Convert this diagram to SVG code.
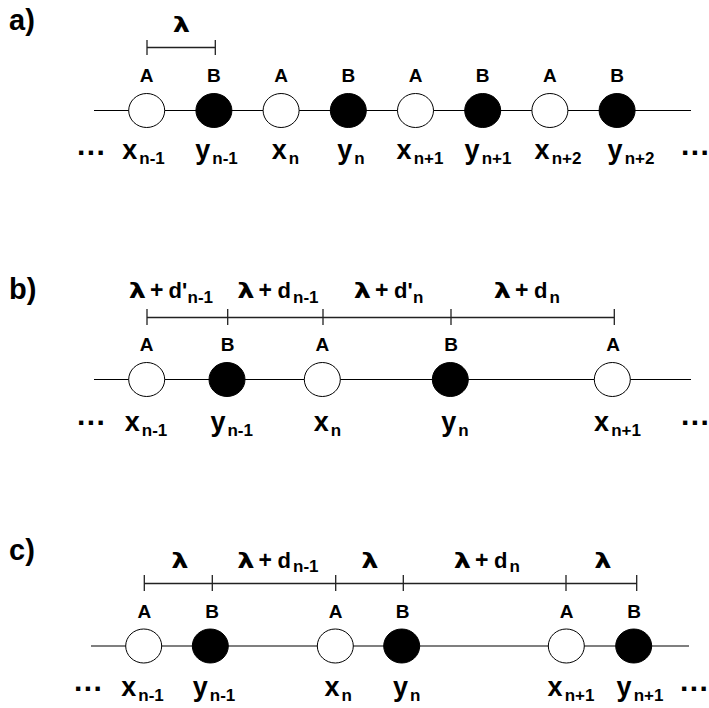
<svg xmlns="http://www.w3.org/2000/svg" width="709" height="708" viewBox="0 0 709 708">
<style>
text{font-family:"Liberation Sans",Arial,sans-serif;font-weight:bold;fill:#000}
.pl{font-size:29px}
.ab{font-size:19px;text-anchor:middle}
.lbl{font-size:27px;text-anchor:middle}
.sub{font-size:17px}
.lam{font-family:"DejaVu Sans","Liberation Sans",sans-serif;font-size:21px;text-anchor:middle}
.top{font-size:22px}
.plus{font-size:23px}
.ts{font-size:17px}
.dots{font-size:30px;letter-spacing:1.4px}
.ln{stroke:#000;stroke-width:1.2;fill:none}
.br{stroke:#222;stroke-width:1.3;fill:none}
.open{fill:#fff;stroke:#000;stroke-width:1}
.full{fill:#000;stroke:#000;stroke-width:1}
</style>
<rect width="709" height="708" fill="#fff"/>

<g id="connectors">
<line class="ln" x1="94" y1="110.5" x2="691" y2="110.5"/>
<path class="br" d="M147 47.5H215.3M147 40V55M215.3 40V55"/>
<line class="ln" x1="94" y1="379.5" x2="691" y2="379.5"/>
<path class="br" d="M147 317.5H614.3M147 309V325M227.7 309V325M323 309V325M451 309V325M614.3 309V325"/>
<line class="ln" x1="91" y1="646" x2="689" y2="646"/>
<path class="br" d="M144.3 583.5H636.7M144.3 575V591M212.3 575V591M335.7 575V591M403.3 575V591M566 575V591M636.7 575V591"/>
</g>

<!-- Panel a -->
<text class="pl" x="9" y="30">a)</text>
<text class="lam" transform="translate(181.5,32) scale(1.3,1)">λ</text>
<text class="dots" x="77" y="154.5">...</text>
<text class="dots" x="681" y="154.5">...</text>

<g id="a1"><ellipse class="open" cx="146.7" cy="110.5" rx="18" ry="17"/><text class="ab" x="146.7" y="81.7">A</text><text class="lbl" x="143.5" y="158.5">x<tspan class="sub" dx="2" dy="5">n-1</tspan></text></g>
<g id="a2"><ellipse class="full" cx="213.9" cy="110.5" rx="18" ry="17"/><text class="ab" x="213.9" y="81.7">B</text><text class="lbl" x="216.5" y="158.5">y<tspan class="sub" dx="2" dy="5">n-1</tspan></text></g>
<g id="a3"><ellipse class="open" cx="281.1" cy="110.5" rx="18" ry="17"/><text class="ab" x="281.1" y="81.7">A</text><text class="lbl" x="285.5" y="158.5">x<tspan class="sub" dx="2" dy="5">n</tspan></text></g>
<g id="a4"><ellipse class="full" cx="348.3" cy="110.5" rx="18" ry="17"/><text class="ab" x="348.3" y="81.7">B</text><text class="lbl" x="351" y="158.5">y<tspan class="sub" dx="2" dy="5">n</tspan></text></g>
<g id="a5"><ellipse class="open" cx="415.5" cy="110.5" rx="18" ry="17"/><text class="ab" x="415.5" y="81.7">A</text><text class="lbl" x="420" y="158.5">x<tspan class="sub" dx="2" dy="5">n+1</tspan></text></g>
<g id="a6"><ellipse class="full" cx="482.7" cy="110.5" rx="18" ry="17"/><text class="ab" x="482.7" y="81.7">B</text><text class="lbl" x="488" y="158.5">y<tspan class="sub" dx="2" dy="5">n+1</tspan></text></g>
<g id="a7"><ellipse class="open" cx="549.9" cy="110.5" rx="18" ry="17"/><text class="ab" x="549.9" y="81.7">A</text><text class="lbl" x="558" y="158.5">x<tspan class="sub" dx="2" dy="5">n+2</tspan></text></g>
<g id="a8"><ellipse class="full" cx="617.1" cy="110.5" rx="18" ry="17"/><text class="ab" x="617.1" y="81.7">B</text><text class="lbl" x="631" y="158.5">y<tspan class="sub" dx="2" dy="5">n+2</tspan></text></g>

<!-- Panel b -->
<text class="pl" x="9" y="299">b)</text>
<g id="tb1"><text class="lam" transform="translate(137.5,298) scale(1.3,1)">λ</text><text class="top" y="298"><tspan class="plus" x="150">+</tspan><tspan x="168.5">d'</tspan><tspan class="ts" x="187.5" dy="4.5">n-1</tspan></text></g>
<g id="tb2"><text class="lam" transform="translate(246,298) scale(1.3,1)">λ</text><text class="top" y="298"><tspan class="plus" x="258.5">+</tspan><tspan x="277.5">d</tspan><tspan class="ts" x="293" dy="4.5">n-1</tspan></text></g>
<g id="tb3"><text class="lam" transform="translate(362.5,298) scale(1.3,1)">λ</text><text class="top" y="298"><tspan class="plus" x="375">+</tspan><tspan x="394">d'</tspan><tspan class="ts" x="413" dy="4.5">n</tspan></text></g>
<g id="tb4"><text class="lam" transform="translate(502.5,298) scale(1.3,1)">λ</text><text class="top" y="298"><tspan class="plus" x="515">+</tspan><tspan x="534">d</tspan><tspan class="ts" x="549.5" dy="4.5">n</tspan></text></g>
<text class="dots" x="77" y="424.5">...</text>
<text class="dots" x="681" y="424.5">...</text>

<g id="b1"><ellipse class="open" cx="146.7" cy="379.5" rx="18" ry="17"/><text class="ab" x="146.7" y="351">A</text><text class="lbl" x="146" y="430.5">x<tspan class="sub" dx="2" dy="5">n-1</tspan></text></g>
<g id="b2"><ellipse class="full" cx="227" cy="379.5" rx="18" ry="17"/><text class="ab" x="227.7" y="351">B</text><text class="lbl" x="231.7" y="430.5">y<tspan class="sub" dx="2" dy="5">n-1</tspan></text></g>
<g id="b3"><ellipse class="open" cx="322.3" cy="379.5" rx="18" ry="17"/><text class="ab" x="322.3" y="351">A</text><text class="lbl" x="327.5" y="430.5">x<tspan class="sub" dx="2" dy="5">n</tspan></text></g>
<g id="b4"><ellipse class="full" cx="450.3" cy="379.5" rx="18" ry="17"/><text class="ab" x="451" y="351">B</text><text class="lbl" x="455" y="430.5">y<tspan class="sub" dx="2" dy="5">n</tspan></text></g>
<g id="b5"><ellipse class="open" cx="612.3" cy="379.5" rx="18" ry="17"/><text class="ab" x="613" y="351">A</text><text class="lbl" x="617.5" y="430.5">x<tspan class="sub" dx="2" dy="5">n+1</tspan></text></g>

<!-- Panel c -->
<text class="pl" x="9" y="560">c)</text>
<text class="lam" transform="translate(180,567.7) scale(1.3,1)">λ</text>
<g id="tc2"><text class="lam" transform="translate(246,567.7) scale(1.3,1)">λ</text><text class="top" y="567.7"><tspan class="plus" x="258.5">+</tspan><tspan x="277.5">d</tspan><tspan class="ts" x="293" dy="4.5">n-1</tspan></text></g>
<text class="lam" transform="translate(370,567.7) scale(1.3,1)">λ</text>
<g id="tc4"><text class="lam" transform="translate(462.5,567.7) scale(1.3,1)">λ</text><text class="top" y="567.7"><tspan class="plus" x="475">+</tspan><tspan x="494">d</tspan><tspan class="ts" x="509.5" dy="4.5">n</tspan></text></g>
<text class="lam" transform="translate(603,567.7) scale(1.3,1)">λ</text>
<text class="dots" x="74" y="690.5">...</text>
<text class="dots" x="680" y="690.5">...</text>

<g id="c1"><ellipse class="open" cx="143.7" cy="646" rx="18" ry="17"/><text class="ab" x="144.3" y="618.3">A</text><text class="lbl" x="142.5" y="696">x<tspan class="sub" dx="2" dy="5">n-1</tspan></text></g>
<g id="c2"><ellipse class="full" cx="210.3" cy="646" rx="18" ry="17"/><text class="ab" x="212" y="618.3">B</text><text class="lbl" x="214" y="696">y<tspan class="sub" dx="2" dy="5">n-1</tspan></text></g>
<g id="c3"><ellipse class="open" cx="335.3" cy="646" rx="18" ry="17"/><text class="ab" x="335.5" y="618.3">A</text><text class="lbl" x="338.3" y="696">x<tspan class="sub" dx="2" dy="5">n</tspan></text></g>
<g id="c4"><ellipse class="full" cx="401.7" cy="646" rx="18" ry="17"/><text class="ab" x="402.5" y="618.3">B</text><text class="lbl" x="406.7" y="696">y<tspan class="sub" dx="2" dy="5">n</tspan></text></g>
<g id="c5"><ellipse class="open" cx="566.3" cy="646" rx="18" ry="17"/><text class="ab" x="566.5" y="618.3">A</text><text class="lbl" x="571" y="696">x<tspan class="sub" dx="2" dy="5">n+1</tspan></text></g>
<g id="c6"><ellipse class="full" cx="633.7" cy="646" rx="18" ry="17"/><text class="ab" x="634" y="618.3">B</text><text class="lbl" x="640" y="696">y<tspan class="sub" dx="2" dy="5">n+1</tspan></text></g>
</svg>
